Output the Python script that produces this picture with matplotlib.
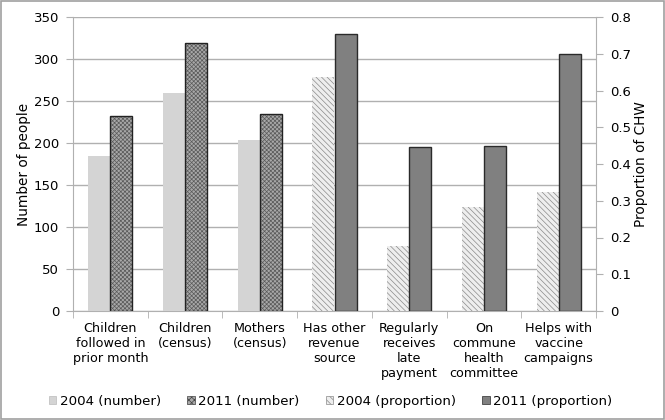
import matplotlib
matplotlib.use("Agg")
import matplotlib.pyplot as plt
import numpy as np
from matplotlib.patches import Rectangle, Patch

# Data
categories = ["Children\nfollowed in\nprior month", "Children\n(census)", "Mothers\n(census)",
              "Has other\nrevenue\nsource", "Regularly\nreceives\nlate\npayment",
              "On\ncommune\nhealth\ncommittee", "Helps with\nvaccine\ncampaigns"]
number_2004 = [185, 260, 203]
number_2011 = [232, 319, 235]
prop_2004 = [0.637, 0.177, 0.283, 0.325]
prop_2011 = [0.755, 0.447, 0.450, 0.698]
left_ticks = [0, 50, 100, 150, 200, 250, 300, 350]
right_ticks = [0, 0.1, 0.2, 0.3, 0.4, 0.5, 0.6, 0.7, 0.8]

plt.rcParams['font.family'] = ['DejaVu Sans']
plt.rcParams['hatch.linewidth'] = 0.5

fig = plt.figure(figsize=(6.65, 4.2), dpi=100)
ax = fig.add_axes([73/665, 109/420, 523/665, 294/420])
ax2 = ax.twinx()

x = np.arange(len(categories))
xn = x[:3]
xp = x[3:]
w = 0.295
grid_c = "#b0b0b0"

# number bars (left axis)
ax.bar(xn - w/2, number_2004, w, color="#d4d4d4", edgecolor="none", zorder=3)
ax.bar(xn + w/2, number_2011, w, color="#a8a8a8", edgecolor="#5a5a5a", hatch="xxxxxxxx",
       linewidth=0, zorder=3)
ax.bar(xn + w/2, number_2011, w, color="none", edgecolor="#222222", linewidth=1, zorder=4)

# proportion bars (right axis)
ax2.bar(xp - w/2, prop_2004, w, color="#eeeeee", edgecolor="#8a8a8a", hatch="\\\\\\\\\\\\",
        linewidth=0, zorder=3)
ax2.bar(xp + w/2, prop_2011, w, color="#808080", edgecolor="#2a2a2a", linewidth=1, zorder=4)

ax.set_ylim(0, 350)
ax2.set_ylim(0, 0.8)
ax.set_xlim(-0.5, len(categories) - 0.5)
ax.set_yticks(left_ticks)
ax2.set_yticks(right_ticks)
ax2.set_yticklabels(["0"] + [f"{t:.1f}" for t in right_ticks[1:]])

ax.yaxis.grid(True, color=grid_c, linewidth=1, zorder=0)
ax.set_axisbelow(True)

ax.set_xticks(x)
ax.set_xticklabels(categories, fontsize=9.2, linespacing=1.2)
ax.set_xticks(np.arange(len(categories) + 1) - 0.5, minor=True)
ax.tick_params(axis="x", which="major", length=0, pad=8)
ax.tick_params(axis="x", which="minor", length=5, color=grid_c)
ax.tick_params(axis="y", length=5, color=grid_c, labelsize=9.5, pad=5)
ax2.tick_params(axis="y", length=5, color=grid_c, labelsize=9.5, pad=5)

for a in (ax, ax2):
    a.spines["top"].set_visible(False)
    for s in ("left", "right", "bottom"):
        a.spines[s].set_color(grid_c)
ax.spines["right"].set_visible(False)
ax2.spines["left"].set_visible(False)
ax2.spines["bottom"].set_visible(False)

ax.set_ylabel("Number of people", fontsize=9.8, labelpad=2)
ax2.set_ylabel("Proportion of CHW", fontsize=9.8, labelpad=2)

handles = [
    Patch(facecolor="#d4d4d4", edgecolor="#bbbbbb", linewidth=0.5),
    Patch(facecolor="#a8a8a8", edgecolor="#444444", hatch="xxxxxx", linewidth=0.5),
    Patch(facecolor="#eeeeee", edgecolor="#8a8a8a", hatch="\\\\\\\\\\", linewidth=0.5),
    Patch(facecolor="#808080", edgecolor="#2a2a2a", linewidth=0.5),
]
labels = ["2004 (number)", "2011 (number)", "2004 (proportion)", "2011 (proportion)"]
fig.legend(handles, labels, loc="center", bbox_to_anchor=(0.497, 0.045), ncol=4, frameon=False,
           fontsize=9.6, handlelength=0.55, handleheight=0.55, handletextpad=0.25,
           columnspacing=2.0)

# outer border
fig.patches.append(Rectangle((0.002, 0.003), 0.996, 0.994, transform=fig.transFigure,
                             fill=False, edgecolor="#a0a0a0", linewidth=1.2))

fig.savefig("out.png", dpi=100)
